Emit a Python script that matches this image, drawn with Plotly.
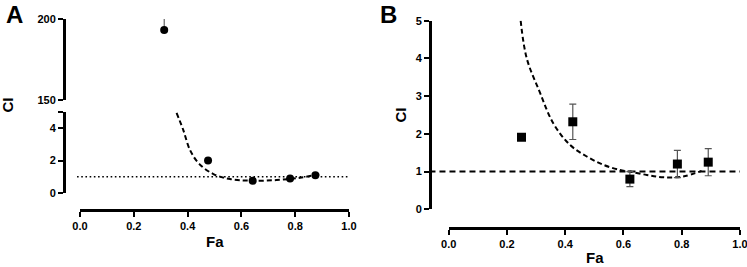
import plotly.graph_objects as go

W, H = 747, 267
FONT = "Liberation Sans, Arial, sans-serif"

# ---------------- data ----------------
# Panel A
a_fa = [0.476, 0.642, 0.781, 0.875]
a_ci = [2.0, 0.75, 0.90, 1.10]
a_hi_fa = [0.313]
a_hi_ci = [193.2]
a_hi_err_plus = [6.8]
a_curve_fa = [0.359, 0.384, 0.409, 0.443, 0.496, 0.558, 0.632, 0.731, 0.818, 0.892]
a_curve_ci = [4.95, 3.88, 2.65, 1.80, 1.17, 0.86, 0.76, 0.80, 0.94, 1.17]
a_ref_fa = [-0.011, 1.0]
a_ref_ci = [1.0, 1.0]

# Panel B
b_fa = [0.250, 0.426, 0.622, 0.785, 0.891]
b_ci = [1.91, 2.32, 0.80, 1.20, 1.25]
b_err = [0.08, 0.47, 0.20, 0.36, 0.36]
b_curve_fa = [0.247, 0.268, 0.313, 0.359, 0.416, 0.474, 0.531, 0.588, 0.622, 0.680, 0.737, 0.805, 0.868]
b_curve_ci = [5.0, 4.0, 3.1, 2.28, 1.71, 1.40, 1.18, 1.04, 1.00, 0.91, 0.85, 0.87, 1.02]
b_ref_fa = [-0.066, 1.0]
b_ref_ci = [1.0, 1.0]

x_ticks = [0.0, 0.2, 0.4, 0.6, 0.8, 1.0]
x_ticktext = ["0.0", "0.2", "0.4", "0.6", "0.8", "1.0"]
a_lo_ticks = [0, 2, 4, 5]
a_lo_ticktext = ["0", "2", "4", ""]
a_hi_ticks = [150, 200]
a_hi_ticktext = ["150", "200"]
b_y_ticks = [0, 1, 2, 3, 4, 5]
b_y_ticktext = ["0", "1", "2", "3", "4", "5"]


def px(x):
    return x / W


def py(y):
    return 1 - y / H


def bold(lst):
    return ["<b>%s</b>" % t if t else "" for t in lst]


fig = go.Figure()

# empty traces so the visible x axes (0..1 only) exist (added first -> drawn underneath)
fig.add_trace(go.Scatter(x=[], y=[], xaxis="x3", yaxis="y", showlegend=False, hoverinfo="skip"))
fig.add_trace(go.Scatter(x=[], y=[], xaxis="x4", yaxis="y3", showlegend=False, hoverinfo="skip"))

# Panel A traces
fig.add_trace(go.Scatter(x=a_ref_fa, y=a_ref_ci, mode="lines", xaxis="x", yaxis="y",
                         line=dict(color="black", width=1.6, dash="1.6px,2.6px"), showlegend=False))
fig.add_trace(go.Scatter(x=a_curve_fa, y=a_curve_ci, mode="lines", xaxis="x", yaxis="y",
                         line=dict(color="black", width=2, dash="5px,3px", shape="spline", smoothing=1),
                         showlegend=False))
fig.add_trace(go.Scatter(x=a_fa, y=a_ci, mode="markers", xaxis="x", yaxis="y", cliponaxis=False,
                         marker=dict(color="black", size=8, symbol="circle"), showlegend=False))
fig.add_trace(go.Scatter(x=a_hi_fa, y=a_hi_ci, mode="markers", xaxis="x", yaxis="y2", cliponaxis=False,
                         error_y=dict(type="data", array=a_hi_err_plus, arrayminus=[0], color="#444",
                                      thickness=1, width=0),
                         marker=dict(color="black", size=8, symbol="circle"), showlegend=False))

# Panel B traces
fig.add_trace(go.Scatter(x=b_ref_fa, y=b_ref_ci, mode="lines", xaxis="x2", yaxis="y3",
                         line=dict(color="black", width=2, dash="6px,4px"), showlegend=False))
fig.add_trace(go.Scatter(x=b_curve_fa, y=b_curve_ci, mode="lines", xaxis="x2", yaxis="y3",
                         line=dict(color="black", width=2, dash="5px,3px", shape="spline", smoothing=1),
                         showlegend=False))
fig.add_trace(go.Scatter(x=b_fa, y=b_ci, mode="markers", xaxis="x2", yaxis="y3", cliponaxis=False,
                         error_y=dict(type="data", array=b_err, color="#555", thickness=1.2, width=3.5),
                         marker=dict(color="black", size=9, symbol="square"), showlegend=False))

tickfont = dict(family=FONT, size=11, color="black")
common_y = dict(showgrid=False, zeroline=False, showline=True, linecolor="black", linewidth=3,
                ticks="outside", ticklen=5, tickwidth=2.2, tickcolor="black", tickfont=tickfont,
                anchor="free", fixedrange=True, automargin=False)
hidden_x = dict(visible=False, fixedrange=True, showgrid=False, zeroline=False, automargin=False)
shown_x = dict(showgrid=False, zeroline=False, showline=True, linecolor="black", linewidth=3,
               ticks="outside", ticklen=5, tickwidth=2.2, tickcolor="black", tickfont=tickfont,
               anchor="free", tickvals=x_ticks, ticktext=bold(x_ticktext), fixedrange=True,
               range=[0, 1], ticklabeloverflow="allow", automargin=False)

# pixel geometry
A_x0, A_unit, A_yax, A_xline = 80.0, 269.0, 64.0, 210.0
B_x0, B_unit, B_yax, B_xline = 448.7, 291.3, 430.0, 228.0
A_lo = -0.065
B_lo = -0.066

fig.update_layout(
    width=W, height=H, margin=dict(l=0, r=0, t=0, b=0, autoexpand=False),
    paper_bgcolor="white", plot_bgcolor="rgba(0,0,0,0)",
    font=dict(family=FONT, color="black"),
    xaxis=dict(hidden_x, domain=[px(A_x0 + A_lo * A_unit), px(A_x0 + A_unit)], range=[A_lo, 1.0],
               anchor="free", position=py(A_xline)),
    xaxis3=dict(shown_x, domain=[px(A_x0), px(A_x0 + A_unit)], position=py(A_xline)),
    yaxis=dict(common_y, domain=[py(193), py(112)], range=[0, 5], tickvals=a_lo_ticks,
               ticktext=bold(a_lo_ticktext), position=px(A_yax)),
    yaxis2=dict(common_y, domain=[py(100), py(19)], range=[150, 200], tickvals=a_hi_ticks,
                ticktext=bold(a_hi_ticktext), position=px(A_yax)),
    xaxis2=dict(hidden_x, domain=[px(B_x0 + B_lo * B_unit), px(B_x0 + B_unit)], range=[B_lo, 1.0],
                anchor="free", position=py(B_xline)),
    xaxis4=dict(shown_x, domain=[px(B_x0), px(B_x0 + B_unit)], position=py(B_xline)),
    yaxis3=dict(common_y, domain=[py(209.3), py(20.7)], range=[0, 5], tickvals=b_y_ticks,
                ticktext=bold(b_y_ticktext), position=px(B_yax)),
)

ann = []
def label(text, x, y, size, angle=0, yanchor="middle"):
    ann.append(dict(text="<b>%s</b>" % text, x=px(x), y=py(y), xref="paper", yref="paper",
                    showarrow=False, xanchor="center", yanchor=yanchor, textangle=angle,
                    borderpad=0, font=dict(family=FONT, size=size, color="black")))

label("A", 14, 0, 24, yanchor="top")
label("B", 388, 0, 24, yanchor="top")
label("CI", 7, 105.5, 15, -90)
label("CI", 400, 115.5, 15, -90)
label("Fa", 214.5, 241, 15)
label("Fa", 595, 257, 15)
fig.update_layout(annotations=ann)

fig.write_html("out.html", config={"displayModeBar": False},
               post_script="document.body.style.margin='0px';document.body.style.overflow='hidden';")
